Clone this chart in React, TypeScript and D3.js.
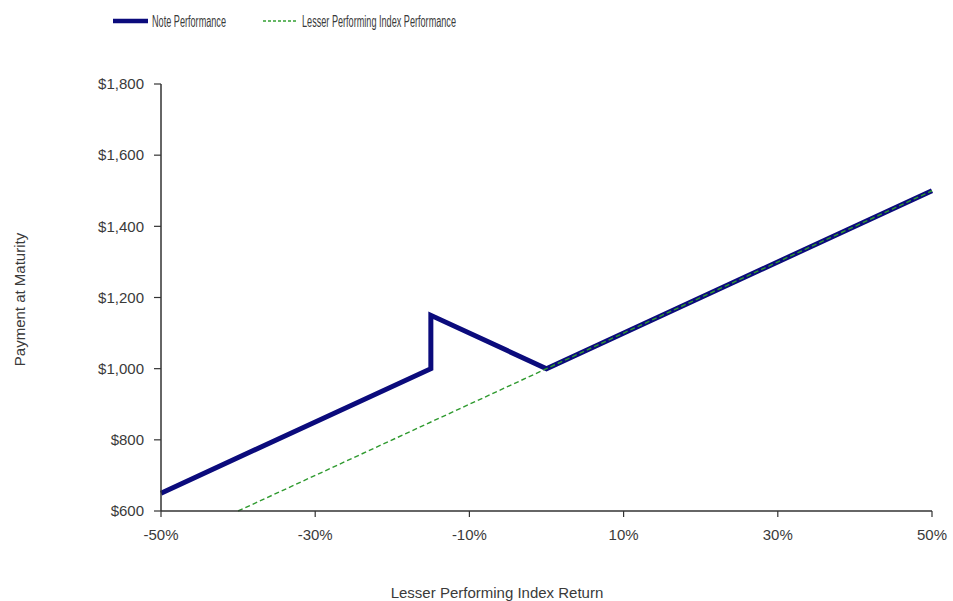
import React from "react";
import * as d3 from "d3";

const noteReturns = [-50, -15, -15, 0, 50];
const notePayments = [650, 1000, 1150, 1000, 1500];
const indexReturns = [-40, 0, 50];
const indexPayments = [600, 1000, 1500];
const xTicks = [-50, -30, -10, 10, 30, 50];
const yTicks = [600, 800, 1000, 1200, 1400, 1600, 1800];

const W = 953, H = 601;
const M = { left: 161, right: 932, top: 84, bottom: 511 };

export default function App() {
  const x = d3.scaleLinear().domain([-50, 50]).range([M.left, M.right]);
  const y = d3.scaleLinear().domain([600, 1800]).range([M.bottom, M.top]);
  const line = d3.line<[number, number]>().x(d => x(d[0])).y(d => y(d[1]));
  const note = line(noteReturns.map((r, i) => [r, notePayments[i]]));
  const idx = line(indexReturns.map((r, i) => [r, indexPayments[i]]));
  const fmtY = (v: number) => "$" + d3.format(",")(v);
  const font = "Liberation Sans, Arial, sans-serif";
  const tc = "#3a3a3a";
  return (
    <svg width={W} height={H} style={{ position: "absolute", left: 0, top: 0, background: "#fff" }}>
      <rect width={W} height={H} fill="#fff" />
      {/* legend */}
      <line x1={113} x2={148} y1={21} y2={21} stroke="#0b0b7c" strokeWidth={4.5} />
      <text x={152} y={26.5} fontFamily={font} fontSize={16} fill={tc} textLength={74} lengthAdjust="spacingAndGlyphs">Note Performance</text>
      <line x1={263} x2={298} y1={21} y2={21} stroke="#33a033" strokeWidth={1.3} strokeDasharray="3,2" />
      <text x={302} y={26.5} fontFamily={font} fontSize={16} fill={tc} textLength={154} lengthAdjust="spacingAndGlyphs">Lesser Performing Index Performance</text>
      {/* lines */}
      <path d={note || ""} fill="none" stroke="#0b0b7c" strokeWidth={5} strokeLinejoin="miter" />
      <path d={idx || ""} fill="none" stroke="#2f9a2f" strokeWidth={1.4} strokeDasharray="5,3" />
      {/* axes */}
      <line x1={M.left} x2={M.left} y1={M.top} y2={M.bottom} stroke="#333" strokeWidth={1.5} />
      <line x1={M.left} x2={M.right} y1={M.bottom} y2={M.bottom} stroke="#333" strokeWidth={1.5} />
      {yTicks.map(t => (
        <g key={t}>
          <line x1={M.left - 7} x2={M.left} y1={y(t)} y2={y(t)} stroke="#333" strokeWidth={1.2} />
          <text x={M.left - 17} y={y(t)} dy="0.35em" textAnchor="end" fontFamily={font} fontSize={15} fill={tc}>{fmtY(t)}</text>
        </g>
      ))}
      {xTicks.map(t => (
        <g key={t}>
          <line x1={x(t)} x2={x(t)} y1={M.bottom} y2={M.bottom + 6} stroke="#333" strokeWidth={1.2} />
          <text x={x(t)} y={M.bottom + 29} textAnchor="middle" fontFamily={font} fontSize={15} fill={tc}>{t + "%"}</text>
        </g>
      ))}
      <text x={497} y={598} textAnchor="middle" fontFamily={font} fontSize={15} fill={tc}>Lesser Performing Index Return</text>
      <text transform={`translate(25,${(M.top + M.bottom) / 2 + 2}) rotate(-90)`} textAnchor="middle" fontFamily={font} fontSize={15} fill={tc}>Payment at Maturity</text>
    </svg>
  );
}
